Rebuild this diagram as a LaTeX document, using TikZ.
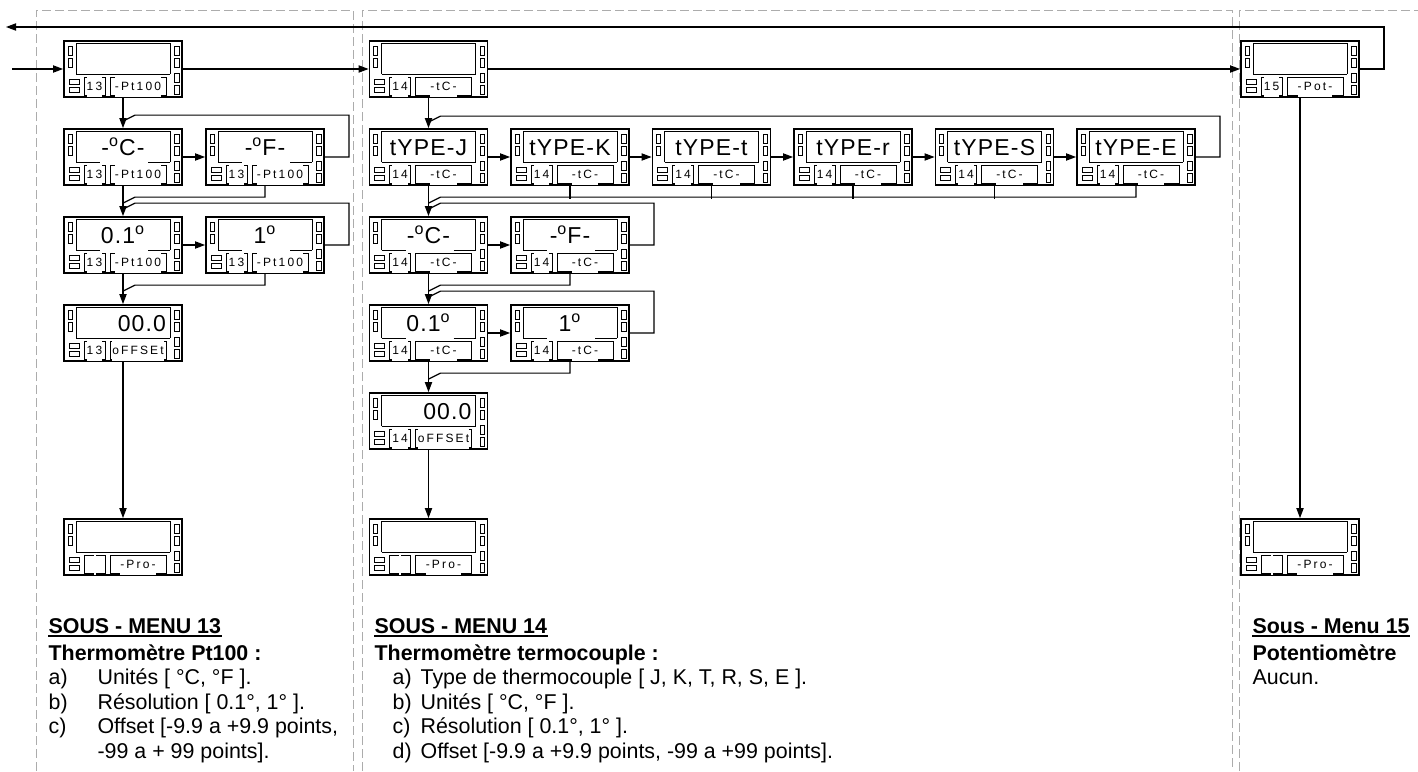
\documentclass[tikz,border=0pt]{standalone}
\usepackage{fontspec}
\setmainfont{Liberation Sans}
\newfontfamily\lcdfont[LetterSpace=5]{Liberation Sans}
\newfontfamily\tagfont[LetterSpace=18]{Liberation Sans}
\usetikzlibrary{arrows.meta,calc}

% one front panel: name, top-left corner, display, gap under display, number, tag, tag style
\newcommand{\panel}[7]{%
  \begin{scope}[shift={#2}]
    \node[devframe] (#1) at (59,28) {};
    \draw[thinln] (12,33) -- (12,2) -- (106,2) -- (106,33);
    \draw[thinln] (12,33) -- ({60-#4/2},33) ({60+#4/2},33) -- (106,33);
    \foreach \yy in {5,17} \draw[thinln] (4,\yy) rectangle (8,{\yy+9});
    \foreach \yy in {5,17,32,44} \draw[thinln] (110.5,\yy) rectangle (115,{\yy+9});
    \foreach \yy in {38,46} \draw[thinln] (5,\yy) rectangle (15,{\yy+5});
    \draw[thinln] (20,36) rectangle (41,54);
    \draw[thinln] (46,36) rectangle (102,54);
    \node[disptext] (#1-d) at (59,26) {#3};
    \node[numtext] (#1-n) at (30.5,49.5) {#5};
    \node[numtext,#7] (#1-t) at (74,49.5) {#6};
  \end{scope}}

\begin{document}
\begin{tikzpicture}[x=0.5pt,y=-0.5pt,>={Triangle[length=5pt,width=3.6pt]},
    line width=0.6pt,
    devframe/.style={draw, line width=0.9pt, minimum width=59pt, minimum height=28pt, inner sep=0pt},
    thinln/.style={line width=0.5pt},
    disptext/.style={anchor=base, inner sep=0pt, font=\lcdfont\fontsize{11.5}{12}\selectfont},
    numtext/.style={anchor=base, fill=white, inner sep=0pt, text height=7pt, text depth=3pt,
                    font=\tagfont\fontsize{6}{6}\selectfont},
    low/.style={text height=4.3pt},
    colframe/.style={gray!65, line width=0.5pt, dash pattern=on 4.5pt off 2pt},
    head/.style={anchor=base west, inner sep=0pt, font=\bfseries\fontsize{10.7}{12}\selectfont},
    body/.style={anchor=base west, inner sep=0pt, font=\fontsize{10.7}{12}\selectfont},
    uline/.style={line width=1pt}]
  \useasboundingbox (0,0) rectangle (1418,771);

  % Columns
  \draw[colframe] (36,771) -- (36,10) -- (353,10) -- (353,771);
  \draw[colframe] (362,771) -- (362,10) -- (1232,10) -- (1232,771);
  \draw[colframe] (1239,771) -- (1239,10) -- (1418,10);

  % Panels, sub-menu 13
  \panel{pt}{(64,41)}{}{0}{13}{-Pt100}{}
  \panel{c13C}{(64,129)}{-\textsuperscript{o}C-}{48}{13}{-Pt100}{}
  \panel{c13F}{(206,129)}{-\textsuperscript{o}F-}{48}{13}{-Pt100}{}
  \panel{r13a}{(64,217)}{0.1\textsuperscript{o}}{48}{13}{-Pt100}{}
  \panel{r13b}{(206,217)}{1\textsuperscript{o}}{48}{13}{-Pt100}{}
  \panel{o13}{(64,305)}{\makebox[43pt][r]{00.0}}{0}{13}{oFFSEt}{}
  \panel{p13}{(64,519)}{}{0}{}{-Pro-}{low}

  % Panels, sub-menu 14
  \panel{tc}{(369.5,41)}{}{0}{14}{-tC-}{low}
  \panel{tJ}{(369.5,129)}{tYPE-J}{0}{14}{-tC-}{low}
  \panel{tK}{(511,129)}{tYPE-K}{0}{14}{-tC-}{low}
  \panel{tT}{(652.5,129)}{tYPE-t}{0}{14}{-tC-}{low}
  \panel{tR}{(794,129)}{tYPE-r}{0}{14}{-tC-}{low}
  \panel{tS}{(935.5,129)}{tYPE-S}{0}{14}{-tC-}{low}
  \panel{tE}{(1077,129)}{tYPE-E}{0}{14}{-tC-}{low}
  \panel{c14C}{(369.5,217)}{-\textsuperscript{o}C-}{48}{14}{-tC-}{low}
  \panel{c14F}{(511,217)}{-\textsuperscript{o}F-}{48}{14}{-tC-}{low}
  \panel{r14a}{(369.5,305)}{0.1\textsuperscript{o}}{48}{14}{-tC-}{low}
  \panel{r14b}{(511,305)}{1\textsuperscript{o}}{48}{14}{-tC-}{low}
  \panel{o14}{(369.5,393)}{\makebox[43pt][r]{00.0}}{0}{14}{oFFSEt}{}
  \panel{p14}{(369.5,519)}{}{0}{}{-Pro-}{low}

  % Panels, sub-menu 15
  \panel{pot}{(1241,41)}{}{0}{15}{-Pot-}{low}
  \panel{p15}{(1241,519)}{}{0}{}{-Pro-}{low}

  % Main loop
  \coordinate (in) at (12,69);
  \coordinate (out) at (6,27);
  \draw[->] (in) -- (pt);
  \draw[->] (pt) -- (tc);
  \draw[->] (tc) -- (pot);
  \draw[->] (pot.east) -- ++(24,0) |- (out);

  % Edges, sub-menu 13
  \draw[->] (pt) -- (c13C);
  \draw (c13F.east) -- ++(24,0) |- ($(c13C.north)+(12,-13)$) -- ++(-12,6);
  \draw[->] (c13C) -- (c13F);
  \draw[->] (c13C) -- (r13a);
  \draw (c13F.south) |- ($(r13a.north)+(12,-19)$) -- ++(-12,6);
  \draw (r13b.east) -- ++(24,0) |- ($(r13a.north)+(12,-13)$) -- ++(-12,6);
  \draw[->] (r13a) -- (r13b);
  \draw[->] (r13a) -- (o13);
  \draw (r13b.south) |- ($(o13.north)+(12,-19)$) -- ++(-12,6);
  \draw[->] (o13) -- (p13);

  % Edges, sub-menu 14
  \draw[->] (tc) -- (tJ);
  \draw (tE.east) -- ++(24,0) |- ($(tJ.north)+(12,-12)$) -- ++(-12,6);
  \foreach \a/\b in {tJ/tK,tK/tT,tT/tR,tR/tS,tS/tE}
    \draw[->] (\a) -- (\b);
  \draw (tE.south) |- ($(c14C.north)+(12,-19)$) -- ++(-12,6);
  \foreach \n in {tK,tT,tR,tS}
    \draw (\n.south) -- ++(0,13);
  \draw[->] (tJ) -- (c14C);
  \draw[->] (c14C) -- (c14F);
  \draw (c14F.east) -- ++(24,0) |- ($(c14C.north)+(12,-13)$) -- ++(-12,6);
  \draw[->] (c14C) -- (r14a);
  \draw (c14F.south) |- ($(r14a.north)+(12,-19)$) -- ++(-12,6);
  \draw (r14b.east) -- ++(24,0) |- ($(r14a.north)+(12,-13)$) -- ++(-12,6);
  \draw[->] (r14a) -- (r14b);
  \draw[->] (r14a) -- (o14);
  \draw (r14b.south) |- ($(o14.north)+(12,-19)$) -- ++(-12,6);
  \draw[->] (o14) -- (p14);

  % Edges, sub-menu 15
  \draw[->] (pot) -- (p15);

  % Labels, sub-menu 13
  \node[head] (h13) at (48,633) {SOUS - MENU 13};
  \draw[uline] ([yshift=-1.6pt]h13.base west) -- ([yshift=-1.6pt]h13.base east);
  \node[head] (n13) at (48,660) {Thermomètre Pt100 :};
  \node[body] (a13) at (48,684.5) {a)};
  \node[body] (a13t) at (97,684.5) {Unités [ °C, °F ].};
  \node[body] (b13) at (48,709) {b)};
  \node[body] (b13t) at (97,709) {Résolution [ 0.1°, 1° ].};
  \node[body] (c13) at (48,733.5) {c)};
  \node[body] (c13t) at (97,733.5) {Offset [-9.9 a +9.9 points,};
  \node[body] (c13u) at (97,758) {-99 a + 99 points].};

  % Labels, sub-menu 14
  \node[head] (h14) at (374,633) {SOUS - MENU 14};
  \draw[uline] ([yshift=-1.6pt]h14.base west) -- ([yshift=-1.6pt]h14.base east);
  \node[head] (n14) at (374,660) {Thermomètre termocouple :};
  \node[body] (a14) at (392,684.5) {a)};
  \node[body] (a14t) at (420,684.5) {Type de thermocouple [ J, K, T, R, S, E ].};
  \node[body] (b14) at (392,709) {b)};
  \node[body] (b14t) at (420,709) {Unités [ °C, °F ].};
  \node[body] (c14) at (392,733.5) {c)};
  \node[body] (c14t) at (420,733.5) {Résolution [ 0.1°, 1° ].};
  \node[body] (d14) at (392,758) {d)};
  \node[body] (d14t) at (420,758) {Offset [-9.9 a +9.9 points, -99 a +99 points].};

  % Labels, sub-menu 15
  \node[head] (h15) at (1252,633) {Sous - Menu 15};
  \draw[uline] ([yshift=-1.6pt]h15.base west) -- ([yshift=-1.6pt]h15.base east);
  \node[head] (n15) at (1252,660) {Potentiomètre};
  \node[body] (a15) at (1252,684.5) {Aucun.};
\end{tikzpicture}
\end{document}
